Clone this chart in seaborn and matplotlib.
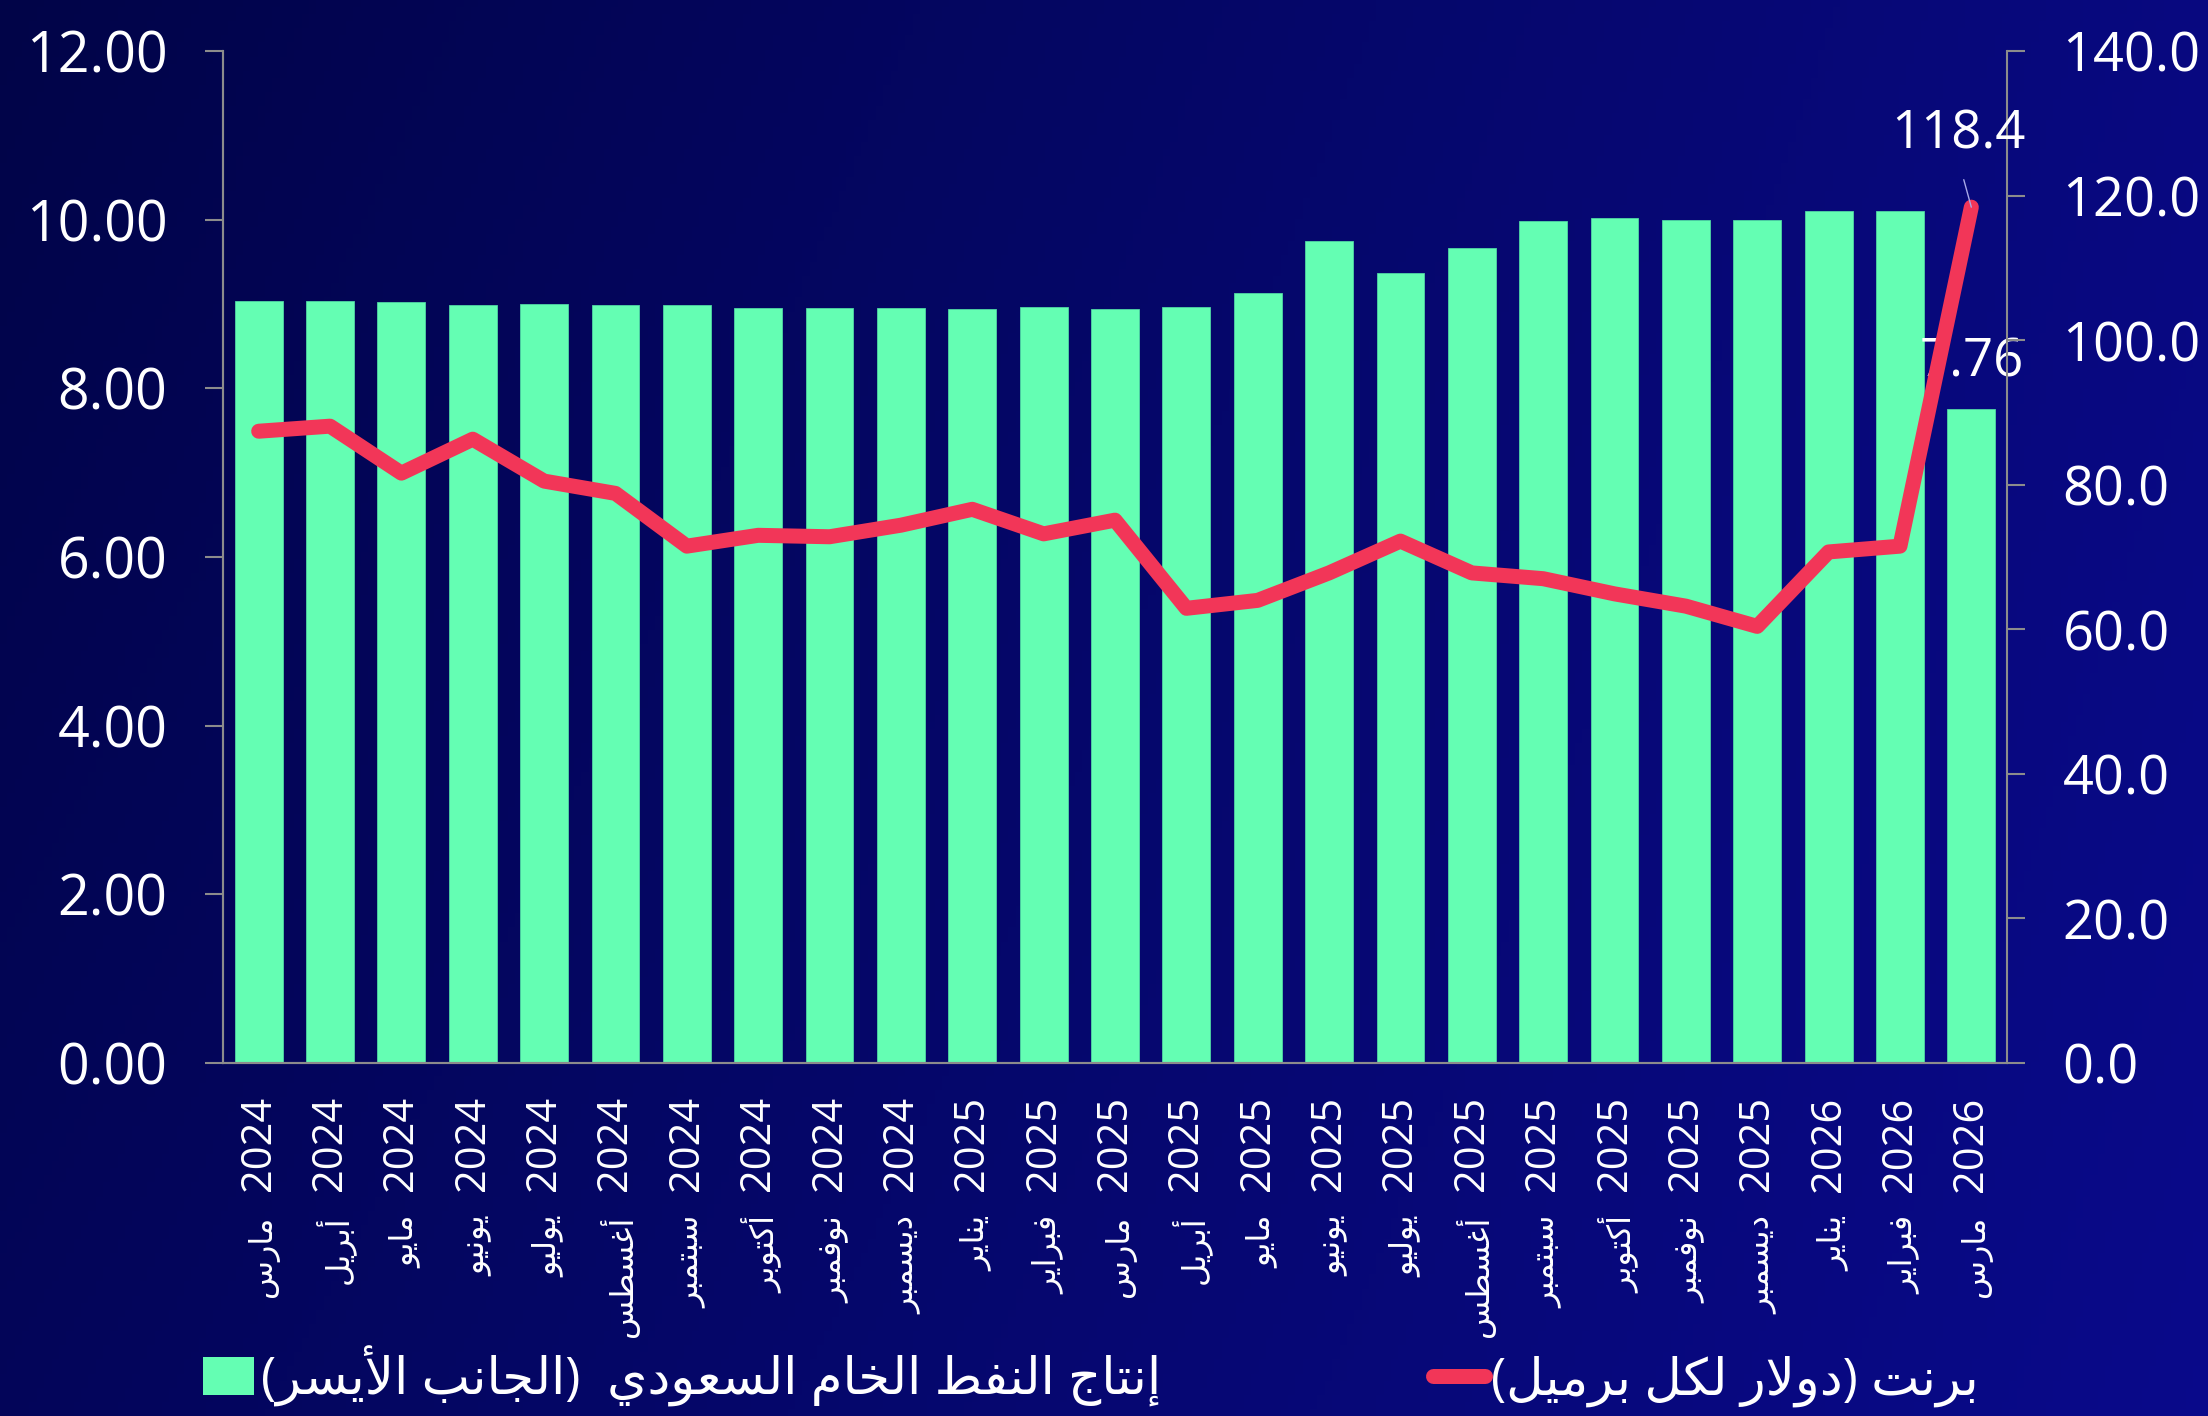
import matplotlib
matplotlib.use("Agg")
import matplotlib.pyplot as plt
from matplotlib.patches import Patch
from matplotlib.lines import Line2D
from matplotlib.ticker import FormatStrFormatter, MultipleLocator
import seaborn as sns
import pandas as pd
import numpy as np

# ── Data ──────────────────────────────────────────────────────────
months = ["مارس", "أبريل", "مايو", "يونيو", "يوليو", "أغسطس", "سبتمبر", "أكتوبر",
          "نوفمبر", "ديسمبر", "يناير", "فبراير", "مارس", "أبريل", "مايو", "يونيو",
          "يوليو", "أغسطس", "سبتمبر", "أكتوبر", "نوفمبر", "ديسمبر", "يناير", "فبراير",
          "مارس"]
years = [2024, 2024, 2024, 2024, 2024, 2024, 2024, 2024, 2024, 2024, 2025, 2025, 2025,
         2025, 2025, 2025, 2025, 2025, 2025, 2025, 2025, 2025, 2026, 2026, 2026]
# Saudi crude production, million b/d (left axis)
production = [9.04, 9.04, 9.02, 8.99, 9.00, 8.99, 8.99, 8.95, 8.95, 8.95, 8.94, 8.96, 8.94,
              8.96, 9.13, 9.75, 9.37, 9.66, 9.98, 10.02, 10.00, 10.00, 10.10, 10.10, 7.76]
# Brent, USD per barrel (right axis)
brent = [87.4, 88.1, 81.6, 86.3, 80.5, 78.8, 71.5, 73.0, 72.8, 74.4, 76.6, 73.2, 75.1,
         62.9, 64.0, 67.8, 72.2, 67.8, 67.0, 64.9, 63.2, 60.4, 70.7, 71.5, 118.4]

LEGEND_BARS = "إنتاج النفط الخام السعودي  (الجانب الأيسر)"
LEGEND_LINE = "برنت (دولار لكل برميل)"

# ── Minimal Arabic shaping (matplotlib has no bidi / joining) ────
DUAL = {"ئ": 0xFE89, "ب": 0xFE8F, "ت": 0xFE95, "ث": 0xFE99, "ج": 0xFE9D, "ح": 0xFEA1,
        "خ": 0xFEA5, "س": 0xFEB1, "ش": 0xFEB5, "ص": 0xFEB9, "ض": 0xFEBD, "ط": 0xFEC1,
        "ظ": 0xFEC5, "ع": 0xFEC9, "غ": 0xFECD, "ف": 0xFED1, "ق": 0xFED5, "ك": 0xFED9,
        "ل": 0xFEDD, "م": 0xFEE1, "ن": 0xFEE5, "ه": 0xFEE9, "ي": 0xFEF1}
RIGHT = {"آ": 0xFE81, "أ": 0xFE83, "ؤ": 0xFE85, "إ": 0xFE87, "ا": 0xFE8D, "ة": 0xFE93,
         "د": 0xFEA9, "ذ": 0xFEAB, "ر": 0xFEAD, "ز": 0xFEAF, "و": 0xFEED, "ى": 0xFEEF}
LAM_ALEF = {"آ": 0xFEF5, "أ": 0xFEF7, "إ": 0xFEF9, "ا": 0xFEFB}


def shape_ar(text):
    toks, i = [], 0
    while i < len(text):
        if text[i] == "ل" and i + 1 < len(text) and text[i + 1] in LAM_ALEF:
            toks.append(("LA", text[i + 1]))
            i += 2
        else:
            toks.append((text[i], None))
            i += 1

    def joins_next(t):
        return t[0] in DUAL

    def joins_prev(t):
        return t[0] == "LA" or t[0] in DUAL or t[0] in RIGHT

    out = []
    for k, t in enumerate(toks):
        p = k > 0 and joins_next(toks[k - 1]) and joins_prev(t)
        n = k + 1 < len(toks) and joins_next(t) and joins_prev(toks[k + 1])
        if t[0] == "LA":
            out.append(chr(LAM_ALEF[t[1]] + (1 if p else 0)))
        elif t[0] in DUAL:
            idx = 3 if (p and n) else 1 if p else 2 if n else 0
            out.append(chr(DUAL[t[0]] + idx))
        elif t[0] in RIGHT:
            out.append(chr(RIGHT[t[0]] + (1 if p else 0)))
        else:
            out.append(t[0])
    vis = "".join(out)[::-1]
    return vis.translate(str.maketrans("()", ")("))


# ── Style ─────────────────────────────────────────────────────────
sns.set_theme(style="white")
FONTS = ["Open Sans", "DejaVu Sans"]
plt.rcParams["font.family"] = FONTS
GREEN = "#64FEB3"
RED = "#F23658"
AXIS = "#8C8C8C"

df = pd.DataFrame({"month": months, "year": years,
                   "production": production, "brent": brent})
df["pos"] = np.arange(len(df))

fig = plt.figure(figsize=(22.08, 14.16), dpi=100)

# background gradient
bg = fig.add_axes([0, 0, 1, 1], zorder=-10)
gx, gy = np.meshgrid(np.linspace(0, 1, 300), np.linspace(0, 1, 200))
t = np.clip(0.8 * gx + 0.25 * gy - 0.1 * (gx * gy), 0, 1)
c0 = np.array([1, 4, 72]) / 255
c1 = np.array([10, 10, 142]) / 255
bg.imshow(c0 + (c1 - c0) * t[..., None], aspect="auto", extent=[0, 1, 0, 1])
bg.axis("off")

ax = fig.add_axes([223 / 2208, 1 - 1063 / 1416, (2007 - 223) / 2208, (1063 - 51) / 1416])
ax.set_facecolor("none")
sns.barplot(data=df, x="pos", y="production", color=GREEN, width=0.67,
            saturation=1, edgecolor="#4fd6a4", linewidth=0.6, ax=ax)
ax.set_xlim(-0.5, len(df) - 0.5)
ax.set_ylim(0, 12)
ax.yaxis.set_major_locator(MultipleLocator(2))
ax.yaxis.set_major_formatter(FormatStrFormatter("%.2f"))

# x labels: year as tick label, month name underneath
ax.set_xticks(df["pos"])
ax.set_xticklabels(df["year"].astype(str), rotation=90, va="top", ha="center",
                   fontsize=30, color="white", family=FONTS)
for pos, m in zip(df["pos"], df["month"]):
    ax.annotate(shape_ar(m), xy=(pos, 0), xycoords=ax.get_xaxis_transform(),
                xytext=(3, -110), textcoords="offset points", rotation=90,
                ha="center", va="top", fontsize=23, color="white", family=FONTS,
                annotation_clip=False)
ax.set_xticks(np.arange(-0.5, len(df), 1), minor=True)
ax.tick_params(axis="x", which="major", length=0, pad=24)
ax.tick_params(axis="x", which="minor", length=11, width=1.5, color=AXIS, direction="out")
ax.tick_params(axis="y", length=13, width=1.5, color=AXIS, pad=27,
               labelsize=40, labelcolor="white", left=True)
ax.set_xlabel("")
ax.set_ylabel("")

ax2 = ax.twinx()
sns.lineplot(data=df, x="pos", y="brent", color=RED, linewidth=10.8, ax=ax2,
             solid_capstyle="round", solid_joinstyle="round", sort=False)
ax2.set_ylim(0, 140)
ax2.yaxis.set_major_locator(MultipleLocator(20))
ax2.yaxis.set_major_formatter(FormatStrFormatter("%.1f"))
ax2.tick_params(axis="y", length=13, width=1.5, color=AXIS, pad=27,
                labelsize=39, labelcolor="white", right=True)
ax2.set_ylabel("")
ax2.set_xlabel("")

for a in (ax, ax2):
    for side in ("left", "right", "bottom"):
        a.spines[side].set_color(AXIS)
        a.spines[side].set_linewidth(1.5)
    a.spines["top"].set_visible(False)
    for lab in a.get_yticklabels():
        lab.set_family(FONTS)
ax.spines["right"].set_visible(False)

# data labels on the last month
last = len(df) - 1
ax.annotate(f"{production[last]:.2f}", xy=(last, production[last]), xytext=(0, 33),
            textcoords="offset points", ha="center", va="center",
            fontsize=38, color="white", family=FONTS)
ax2.annotate(f"{brent[last]:.1f}", xy=(last, brent[last]), xytext=(-9, 52),
             textcoords="offset points", ha="center", va="center",
             fontsize=38, color="white", family=FONTS,
             arrowprops=dict(arrowstyle="-", color="#A8A8E8", lw=1.0,
                             relpos=(0.5, 0.0), shrinkA=11, shrinkB=0))

# legend
handles = [Patch(facecolor=GREEN, edgecolor="none"),
           Line2D([0], [0], color=RED, lw=10.8, solid_capstyle="round")]
fig.legend(handles, [shape_ar(LEGEND_BARS), shape_ar(LEGEND_LINE)],
           loc="lower center", bbox_to_anchor=(0.494, -0.026), ncol=2, frameon=False,
           prop={"family": FONTS, "size": 37}, labelcolor="white",
           handlelength=1.0, handleheight=0.75, handletextpad=0.12, columnspacing=5.3)

fig.savefig("out.png", dpi=100, facecolor="#03065a")
